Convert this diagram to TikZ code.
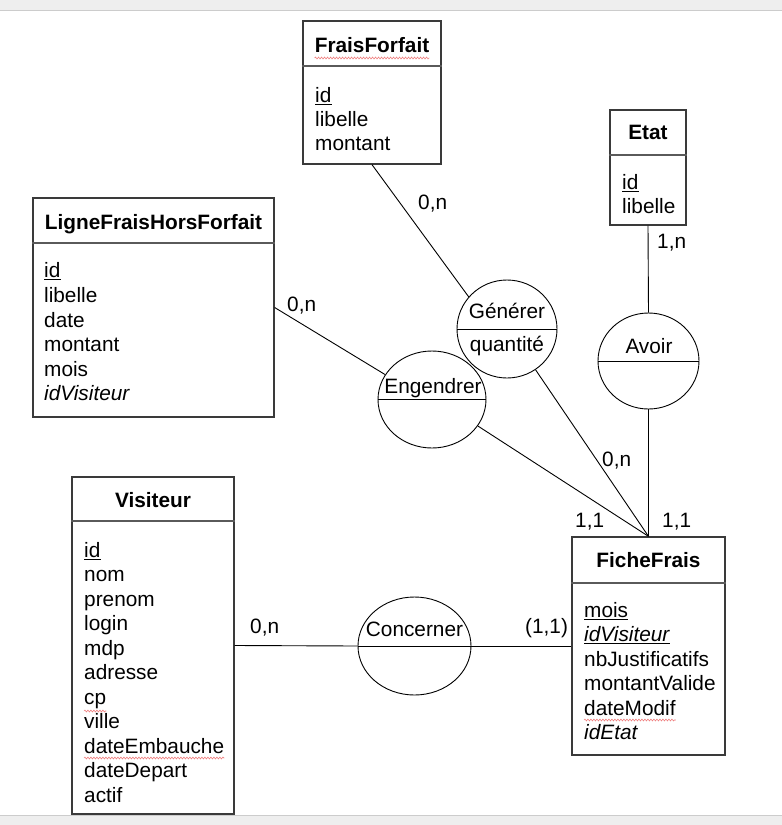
\documentclass[tikz,border=0pt]{standalone}
\usepackage{fontspec}
\setmainfont{Liberation Sans}
\usetikzlibrary{shapes.geometric,decorations.pathmorphing}
\definecolor{boxline}{HTML}{3A3A3A}
\definecolor{divline}{HTML}{5A5A5A}
\definecolor{stripgray}{HTML}{EEEEEE}
\definecolor{stripline}{HTML}{CCCCCC}
\definecolor{spell}{HTML}{F08080}
\tikzset{
  entity/.style={draw=boxline, line width=1.3pt, fill=white, rectangle, inner sep=0pt},
  assoc/.style={draw=black, line width=0.9pt, fill=white, ellipse, inner sep=0pt},
  divider/.style={draw=divline, line width=1.6pt},
  adiv/.style={draw=black, line width=0.9pt},
  link/.style={draw=black, line width=0.9pt},
  txt/.style={inner sep=0pt, font=\fontsize{20.8pt}{24pt}\selectfont, anchor=base west},
  ttl/.style={inner sep=0pt, font=\fontsize{20.8pt}{24pt}\selectfont\bfseries, anchor=base},
  ctxt/.style={inner sep=0pt, font=\fontsize{20.8pt}{24pt}\selectfont, anchor=base},
  card/.style={inner sep=0pt, font=\fontsize{20.8pt}{24pt}\selectfont, anchor=base west},
  ul/.style={draw=black, line width=1pt},
  squig/.style={draw=spell, line width=0.6pt, decorate, decoration={snake, amplitude=0.9pt, segment length=3pt}}
}
\begin{document}
\begin{tikzpicture}[x=1pt, y=-1pt]
\useasboundingbox (0,0) rectangle (782,825);
% window strips
\fill[stripgray] (0,0) rectangle (782,10);
\draw[stripline, line width=1pt] (0,10) -- (782,10);
\fill[stripgray] (0,815) rectangle (782,825);
\draw[stripline, line width=1pt] (0,815) -- (782,815);

% ---------- entity boxes ----------
\node[entity, minimum width=138pt, minimum height=143pt] (ff) at (372,92.5) {};
\node[entity, minimum width=76pt, minimum height=115pt] (etat) at (648,167.5) {};
\node[entity, minimum width=241pt, minimum height=219pt] (lfhf) at (153.5,307.5) {};
\node[entity, minimum width=162pt, minimum height=337pt] (vis) at (153,645.5) {};
\node[entity, minimum width=153pt, minimum height=218pt] (fiche) at (648.5,646) {};

% ---------- association ellipses ----------
\node[assoc, minimum width=100pt, minimum height=98pt] (gen) at (507,329) {};
\node[assoc, minimum width=108pt, minimum height=97pt] (eng) at (432,399.5) {};
\node[assoc, minimum width=101pt, minimum height=96pt] (avoir) at (648.5,361) {};
\node[assoc, minimum width=113pt, minimum height=98pt] (conc) at (414.5,646) {};

% ---------- connectors ----------
\draw[link] (ff.south) -- (gen.140);
\draw[link] (etat.south) -- (avoir.north);
\draw[link] (lfhf.east) -- (eng.152);
\draw[link] (eng.330) -- (fiche.north);
\draw[link] (gen.305) -- (fiche.north);
\draw[link] (avoir.south) -- (fiche.north);
\draw[link] (vis.east) -- (conc.west);
\draw[link] (conc.east) -- (fiche.west);

% ellipse dividers
\draw[adiv] (gen.west) -- (gen.east);
\draw[adiv] (eng.west) -- (eng.east);
\draw[adiv] (avoir.west) -- (avoir.east);
\draw[adiv] (conc.west) -- (conc.east);

% box dividers
\draw[divider] (ff.west |- 0,66) -- (ff.east |- 0,66);
\draw[divider] (etat.west |- 0,155) -- (etat.east |- 0,155);
\draw[divider] (lfhf.west |- 0,243) -- (lfhf.east |- 0,243);
\draw[divider] (vis.west |- 0,521) -- (vis.east |- 0,521);
\draw[divider] (fiche.west |- 0,583) -- (fiche.east |- 0,583);

% ---------- FraisForfait ----------
\node[ttl] (ffT) at (372,52) {FraisForfait};
\node[txt] (ff1) at (315,102) {id};
\node[txt] (ff2) at (315,126) {libelle};
\node[txt] (ff3) at (315,150) {montant};
\draw[ul] ([yshift=-2.5pt]ff1.base west) -- ([yshift=-2.5pt]ff1.base east);
\draw[squig] ([yshift=-6pt]ffT.base west) -- ([yshift=-6pt]ffT.base east);

% ---------- Etat ----------
\node[ttl] (etT) at (648,139) {Etat};
\node[txt] (et1) at (622,189) {id};
\node[txt] (et2) at (622,213) {libelle};
\draw[ul] ([yshift=-2.5pt]et1.base west) -- ([yshift=-2.5pt]et1.base east);

% ---------- LigneFraisHorsForfait ----------
\node[ttl] (lfT) at (153.5,229) {LigneFraisHorsForfait};
\node[txt] (lf1) at (44,277) {id};
\node[txt] (lf2) at (44,302) {libelle};
\node[txt] (lf3) at (44,327) {date};
\node[txt] (lf4) at (44,351) {montant};
\node[txt] (lf5) at (44,376) {mois};
\node[txt] (lf6) at (44,400) {\itshape idVisiteur};
\draw[ul] ([yshift=-2.5pt]lf1.base west) -- ([yshift=-2.5pt]lf1.base east);

% ---------- Visiteur ----------
\node[ttl] (viT) at (153,507) {Visiteur};
\node[txt] (vi1) at (84,557) {id};
\node[txt] (vi2) at (84,581.5) {nom};
\node[txt] (vi3) at (84,606) {prenom};
\node[txt] (vi4) at (84,630.5) {login};
\node[txt] (vi5) at (84,655) {mdp};
\node[txt] (vi6) at (84,679.5) {adresse};
\node[txt] (vi7) at (84,704) {cp};
\node[txt] (vi8) at (84,728.5) {ville};
\node[txt] (vi9) at (84,753) {dateEmbauche};
\node[txt] (vi10) at (84,777.5) {dateDepart};
\node[txt] (vi11) at (84,802) {actif};
\draw[ul] ([yshift=-2.5pt]vi1.base west) -- ([yshift=-2.5pt]vi1.base east);
\draw[squig] ([yshift=-7pt]vi7.base west) -- ([yshift=-7pt]vi7.base east);
\draw[squig] ([yshift=-5pt]vi9.base west) -- ([yshift=-5pt]vi9.base east);

% ---------- FicheFrais ----------
\node[ttl] (fiT) at (648.5,567) {FicheFrais};
\node[txt] (fi1) at (584,617) {mois};
\node[txt] (fi2) at (584,641) {\itshape idVisiteur};
\node[txt] (fi3) at (584,666) {nbJustificatifs};
\node[txt] (fi4) at (584,690) {montantValide};
\node[txt] (fi5) at (584,715) {dateModif};
\node[txt] (fi6) at (584,739) {\itshape idEtat};
\draw[ul] ([yshift=-2.5pt]fi1.base west) -- ([yshift=-2.5pt]fi1.base east);
\draw[ul] ([yshift=-2.5pt]fi2.base west) -- ([yshift=-2.5pt]fi2.base east);
\draw[squig] ([yshift=-5pt]fi5.base west) -- ([yshift=-5pt]fi5.base east);

% ---------- association texts ----------
\node[ctxt] (genT) at (507,318) {Générer};
\node[ctxt] (genA) at (507,351) {quantité};
\node[ctxt] (engT) at (433,393) {Engendrer};
\node[ctxt] (avT) at (649,353) {Avoir};
\node[ctxt] (coT) at (414.5,636) {Concerner};

% ---------- cardinalities ----------
\node[card] (c1) at (418,209) {0,n};
\node[card] (c2) at (657,248) {1,n};
\node[card] (c3) at (287,311) {0,n};
\node[card] (c4) at (602,466) {0,n};
\node[card] (c5) at (575,527) {1,1};
\node[card] (c6) at (662,527) {1,1};
\node[card] (c7) at (250,633) {0,n};
\node[card] (c8) at (525,633) {(1,1)};
\end{tikzpicture}
\end{document}
